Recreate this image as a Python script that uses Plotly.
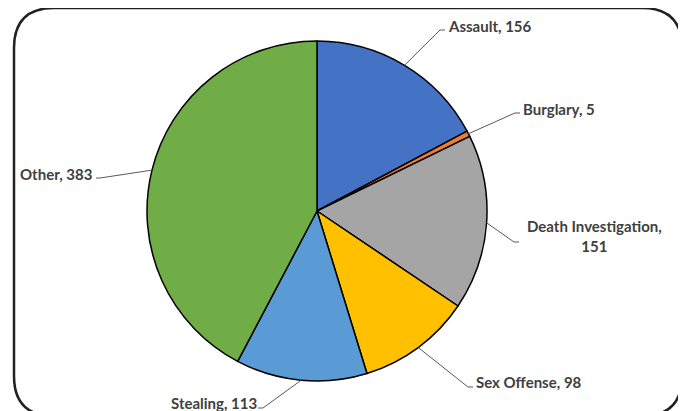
import math
import plotly.graph_objects as go

# ---- data ----
categories = ["Assault", "Burglary", "Death Investigation", "Sex Offense", "Stealing", "Other"]
values = [156, 5, 151, 98, 113, 383]
colors = ["#4472C4", "#ED7D31", "#A5A5A5", "#FFC000", "#5B9BD5", "#70AD47"]
label_texts = ["Assault, 156", "Burglary, 5", "Death Investigation,<br>151",
               "Sex Offense, 98", "Stealing, 113", "Other, 383"]

# ---- layout (screen pixels; page body has an 8px margin) ----
OFF = 8
W, H = 686 - OFF, 411 - OFF
CX, CY, R = 317, 211, 170

# label anchor (x, y, xanchor) and leader elbow / tail end
label_pos = [
    (446, 26, "left"),
    (521, 109, "left"),
    (594, 236, "center"),
    (474, 382, "left"),
    (259, 403, "right"),
    (94, 174, "right"),
]
elbows = [
    ((440, 30), (445, 30)),
    ((515, 113), (520, 113)),
    ((514, 242), (519, 242)),
    ((468, 387), (473, 387)),
    ((263, 408), (258, 408)),
    ((100, 178), (96, 178)),
]


def px(x):
    return (x - OFF) / W


def py(y):
    return 1 - (y - OFF) / H


fig = go.Figure(go.Pie(
    labels=categories,
    values=values,
    sort=False,
    direction="clockwise",
    rotation=0,
    marker=dict(colors=colors, line=dict(color="#000000", width=1.5)),
    textinfo="none",
    hoverinfo="label+value",
    showlegend=False,
    domain=dict(x=[px(CX - R), px(CX + R)], y=[py(CY + R), py(CY - R)]),
))

shapes = []
annotations = []
total = sum(values)
cum = 0
for i, v in enumerate(values):
    mid = (cum + v / 2) / total * 2 * math.pi
    cum += v
    ex = CX + R * math.sin(mid)
    ey = CY - R * math.cos(mid)
    (bx, by), (tx, ty) = elbows[i]
    shapes.append(dict(type="path", xref="paper", yref="paper",
                       path=f"M {px(ex)} {py(ey)} L {px(bx)} {py(by)} L {px(tx)} {py(ty)}",
                       line=dict(color="#595959", width=1)))
    lx, ly, anc = label_pos[i]
    annotations.append(dict(x=px(lx), y=py(ly), xref="paper", yref="paper",
                            text=f"<b>{label_texts[i]}</b>", showarrow=False,
                            xanchor=anc, yanchor="middle", align="center",
                            font=dict(family="Lato", size=15, color="#404040")))

# rounded chart border
L_, T_, R_, B_, rad = 14, 8, 682, 416, 40
path = (f"M {px(L_ + rad)} {py(T_)} L {px(R_ - rad)} {py(T_)} "
        f"Q {px(R_)} {py(T_)} {px(R_)} {py(T_ + rad)} "
        f"L {px(R_)} {py(B_ - rad)} Q {px(R_)} {py(B_)} {px(R_ - rad)} {py(B_)} "
        f"L {px(L_ + rad)} {py(B_)} Q {px(L_)} {py(B_)} {px(L_)} {py(B_ - rad)} "
        f"L {px(L_)} {py(T_ + rad)} Q {px(L_)} {py(T_)} {px(L_ + rad)} {py(T_)} Z")
shapes.append(dict(type="path", xref="paper", yref="paper", path=path,
                   line=dict(color="#222222", width=2.5), layer="above"))

fig.update_layout(
    width=W, height=H,
    margin=dict(l=0, r=0, t=0, b=0),
    paper_bgcolor="white", plot_bgcolor="white",
    shapes=shapes, annotations=annotations,
)

fig.write_html("out.html")
